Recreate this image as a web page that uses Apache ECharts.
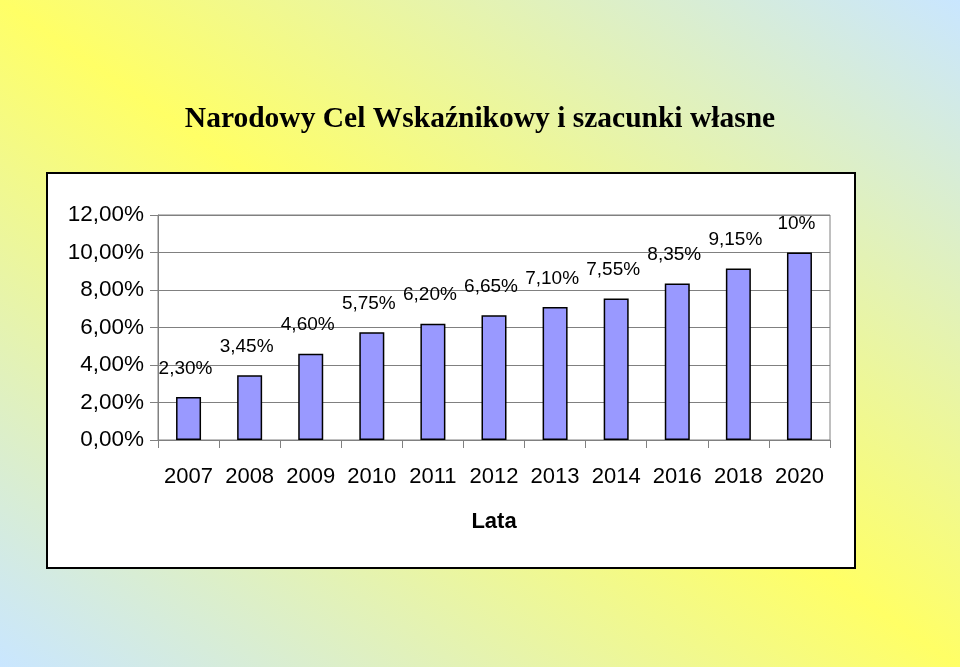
<!DOCTYPE html>
<html>
<head>
<meta charset="utf-8">
<script src="https://cdn.jsdelivr.net/npm/echarts@6/dist/echarts.min.js"></script>
<style>
  html, body { margin: 0; padding: 0; }
  #chart {
    width: 960px; height: 667px;
    background: linear-gradient(to top right, #C9E6FF 0%, #FFFF66 50%, #C9E6FF 100%);
  }
</style>
</head>
<body>
<div id="chart"></div>
<script>
const titleText = 'Narodowy Cel Wskaźnikowy i szacunki własne';
const categories = ['2007', '2008', '2009', '2010', '2011', '2012', '2013', '2014', '2016', '2018', '2020'];
const values = [2.30, 3.45, 4.60, 5.75, 6.20, 6.65, 7.10, 7.55, 8.35, 9.15, 10];
const yTicks = { min: 0, max: 12, interval: 2 };
const xAxisName = 'Lata';

const sans = "'Liberation Sans', Arial, sans-serif";
const fmtPct = v => v.toFixed(2).replace('.', ',') + '%';

const chart = echarts.init(document.getElementById('chart'), null, { renderer: 'canvas' });
chart.setOption({
  backgroundColor: 'transparent',
  animation: false,
  title: {
    text: titleText,
    left: 'center',
    top: 99,
    textStyle: { fontFamily: "'Liberation Serif', 'Times New Roman', serif", fontWeight: 'bold', fontSize: 29.5, color: '#000' }
  },
  graphic: [{
    type: 'rect', z: -10,
    shape: { x: 47, y: 173, width: 808, height: 395 },
    style: { fill: '#fff', stroke: '#000', lineWidth: 2 }
  }],
  grid: {
    left: 158, right: 130, top: 215, bottom: 227,
    show: true, borderColor: '#808080', borderWidth: 1, backgroundColor: 'transparent', z: 1
  },
  xAxis: {
    type: 'category',
    data: categories,
    name: xAxisName,
    nameLocation: 'middle',
    nameGap: 71,
    nameTextStyle: { fontFamily: sans, fontWeight: 'bold', fontSize: 22, color: '#000' },
    axisLine: { lineStyle: { color: '#808080', width: 1 } },
    axisTick: { show: true, length: 8, lineStyle: { color: '#808080' } },
    axisLabel: { fontFamily: sans, fontSize: 22, color: '#000', margin: 26, interval: 0 }
  },
  yAxis: {
    type: 'value',
    min: yTicks.min, max: yTicks.max, interval: yTicks.interval,
    axisLine: { show: true, lineStyle: { color: '#808080', width: 1 } },
    axisTick: { show: true, length: 8, lineStyle: { color: '#808080' } },
    splitLine: { show: true, lineStyle: { color: '#808080', width: 1 } },
    axisLabel: { fontFamily: sans, fontSize: 22.5, color: '#000', margin: 14, formatter: fmtPct }
  },
  series: [{
    type: 'bar',
    data: values,
    barWidth: 25,
    itemStyle: { color: '#9999FF', borderColor: '#000', borderWidth: 1.5 },
    label: {
      show: true,
      position: 'top',
      distance: 19,
      offset: [-3, 0],
      fontFamily: sans,
      fontSize: 19,
      color: '#000',
      formatter: p => Number.isInteger(p.value) ? p.value + '%' : fmtPct(p.value)
    }
  }]
});
</script>
</body>
</html>
